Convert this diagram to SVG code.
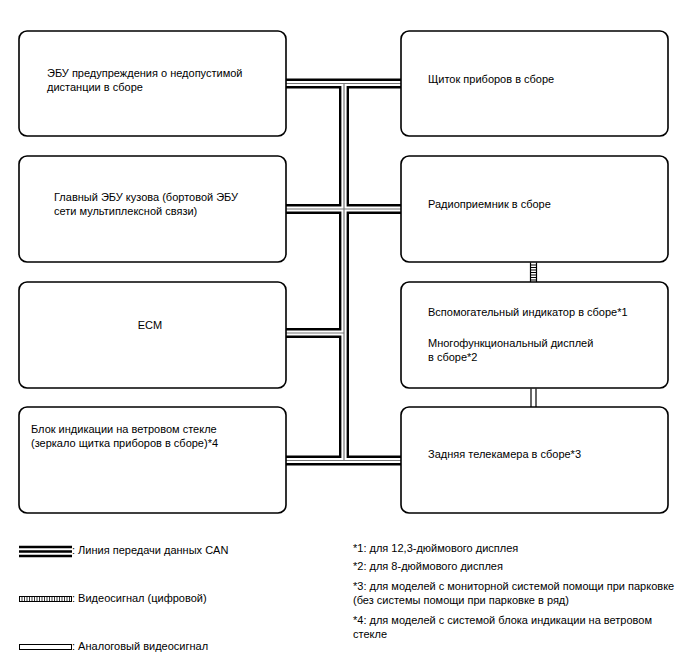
<svg xmlns="http://www.w3.org/2000/svg" width="688" height="658" viewBox="0 0 688 658">
<style>
.box{fill:#fff;stroke:#000;stroke-width:1.6}
text{font-family:"Liberation Sans",Arial,sans-serif;font-size:11px;fill:#000}
.cb{fill:none;stroke:#000;stroke-width:10}
.cw{fill:none;stroke:#fff;stroke-width:5.2}
.cg{fill:none;stroke:#777;stroke-width:1.2}
.ln{fill:none;stroke:#000;stroke-width:1.2}
</style>
<rect width="688" height="658" fill="#fff"/>
<g id="connectors">
<g id="can-bus">
<path class="cb" d="M286,83.5H401M344,83.5V460.5M286,209H401M286,333H344M286,460.5H401"/>
<path class="cw" d="M286,83.5H401M344,83.5V460.5M286,209H401M286,333H344M286,460.5H401"/>
<path class="cg" d="M286,83.5H401M344,83.5V460.5M286,209H401M286,333H344M286,460.5H401"/>
</g>
<g id="digital-video">
<path class="ln" d="M530.5,262.5V282M536.5,262.5V282"/>
<path class="ln" stroke-width="0.9" d="M530.5,265H536.5M530.5,267.5H536.5M530.5,270H536.5M530.5,272.5H536.5M530.5,275H536.5M530.5,277.5H536.5M530.5,280H536.5"/>
</g>
<g id="analog-video">
<path class="ln" d="M531,388.5V407M536,388.5V407"/>
</g>
</g>
<g id="node-l1"><rect class="box" x="19" y="31" width="267" height="105" rx="8"/>
<text x="47" y="77">ЭБУ предупреждения о недопустимой</text>
<text x="47" y="91">дистанции в сборе</text></g>
<g id="node-l2"><rect class="box" x="19" y="156" width="267" height="106" rx="8"/>
<text x="54" y="201">Главный ЭБУ кузова (бортовой ЭБУ</text>
<text x="54" y="215">сети мультиплексной связи)</text></g>
<g id="node-l3"><rect class="box" x="19" y="282" width="267" height="106" rx="8"/>
<text x="150" y="329" text-anchor="middle">ECM</text></g>
<g id="node-l4"><rect class="box" x="19" y="407" width="267" height="106" rx="8"/>
<text x="31" y="433">Блок индикации на ветровом стекле</text>
<text x="31" y="447">(зеркало щитка приборов в сборе)*4</text></g>
<g id="node-r1"><rect class="box" x="401" y="31" width="267" height="105" rx="8"/>
<text x="428" y="83">Щиток приборов в сборе</text></g>
<g id="node-r2"><rect class="box" x="401" y="156" width="267" height="106" rx="8"/>
<text x="428" y="208">Радиоприемник в сборе</text></g>
<g id="node-r3"><rect class="box" x="401" y="282" width="267" height="106" rx="8"/>
<text x="428" y="316">Вспомогательный индикатор в сборе*1</text>
<text x="428" y="347">Многофункциональный дисплей</text>
<text x="428" y="361">в сборе*2</text></g>
<g id="node-r4"><rect class="box" x="401" y="407" width="267" height="106" rx="8"/>
<text x="428" y="458">Задняя телекамера в сборе*3</text></g>
<g id="legend">
<path stroke="#000" stroke-width="2.5" fill="none" d="M19,547H72M19,551.5H72M19,556H72"/>
<text x="72" y="554">: Линия передачи данных CAN</text>
<rect x="19.5" y="596.5" width="52" height="5" fill="#fff" stroke="#000" stroke-width="1"/>
<path stroke="#000" stroke-width="0.8" d="M22,596.5V601.5M24.5,596.5V601.5M27,596.5V601.5M29.5,596.5V601.5M32,596.5V601.5M34.5,596.5V601.5M37,596.5V601.5M39.5,596.5V601.5M42,596.5V601.5M44.5,596.5V601.5M47,596.5V601.5M49.5,596.5V601.5M52,596.5V601.5M54.5,596.5V601.5M57,596.5V601.5M59.5,596.5V601.5M62,596.5V601.5M64.5,596.5V601.5M67,596.5V601.5M69.5,596.5V601.5"/>
<text x="72" y="602">: Видеосигнал (цифровой)</text>
<rect x="19.5" y="644.5" width="52" height="5" fill="#fff" stroke="#000" stroke-width="1"/>
<text x="72" y="650">: Аналоговый видеосигнал</text>
<text x="353" y="552">*1: для 12,3-дюймового дисплея</text>
<text x="353" y="570">*2: для 8-дюймового дисплея</text>
<text x="353" y="590">*3: для моделей с мониторной системой помощи при парковке</text>
<text x="353" y="604">(без системы помощи при парковке в ряд)</text>
<text x="353" y="624">*4: для моделей с системой блока индикации на ветровом</text>
<text x="353" y="638">стекле</text>
</g>
</svg>
